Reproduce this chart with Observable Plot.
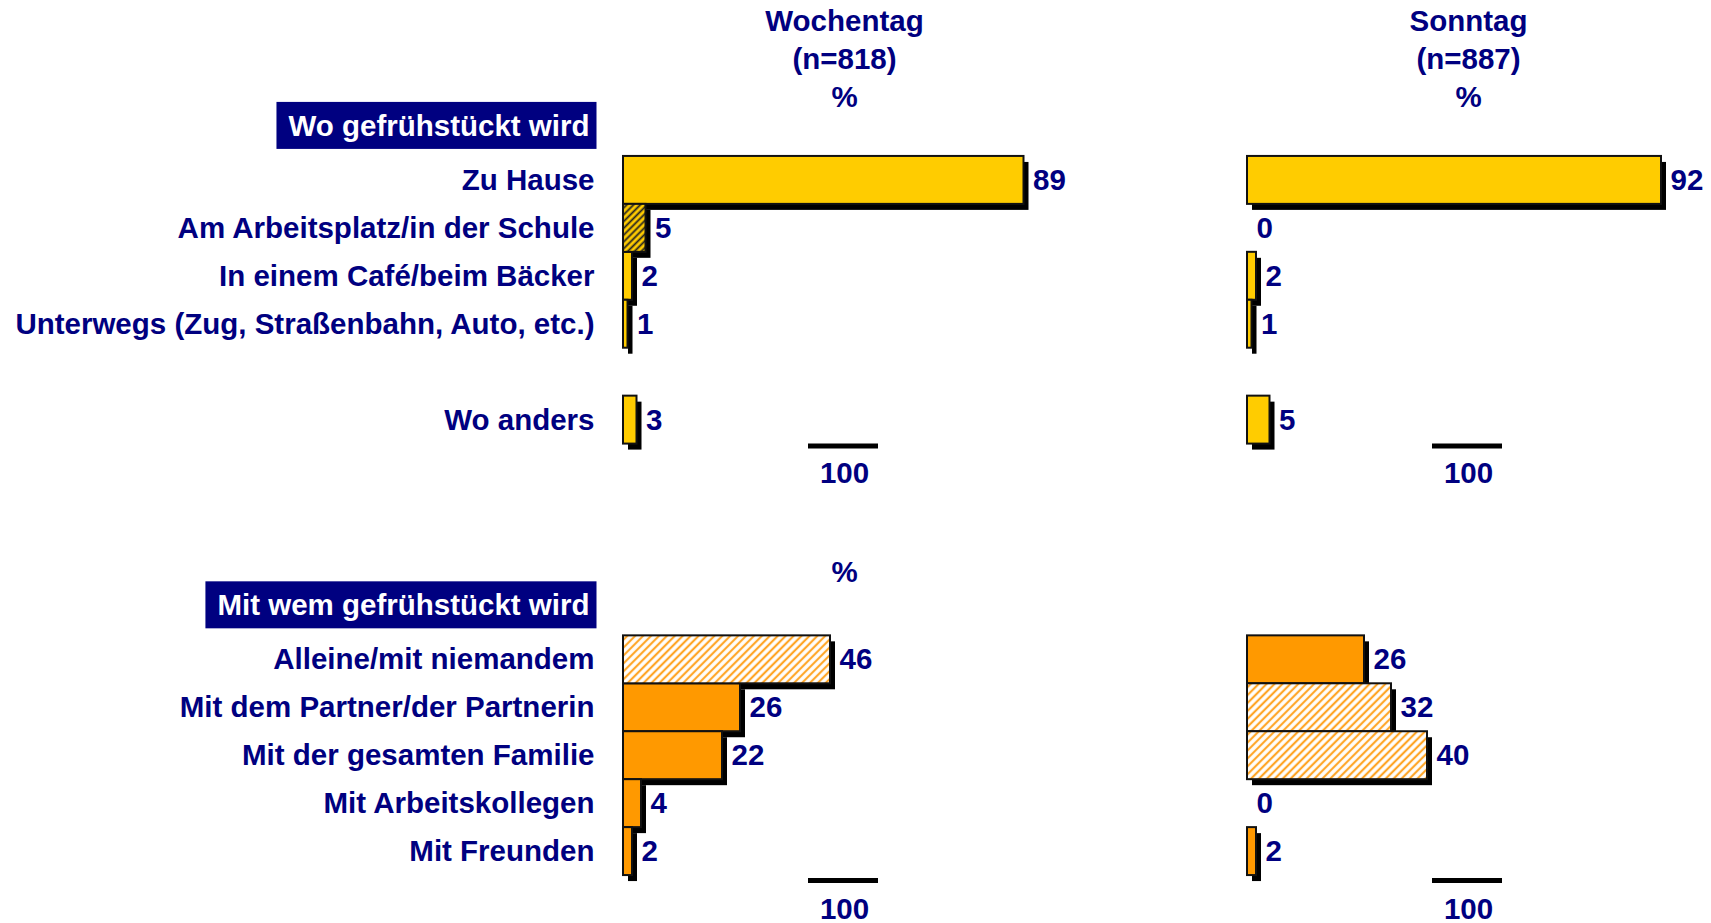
<!DOCTYPE html>
<html><head><meta charset="utf-8">
<script src="https://cdn.jsdelivr.net/npm/d3@7"></script>
<script src="https://cdn.jsdelivr.net/npm/@observablehq/plot@0.6"></script>
<style>body{margin:0;background:#fff;} svg{display:block}</style>
</head><body>
<svg width="0" height="0" style="position:absolute">
<defs>
<pattern id="hatchYellow" patternUnits="userSpaceOnUse" width="4.8" height="4.8" patternTransform="rotate(45)">
<rect width="4.8" height="4.8" fill="#FFCC00"/><line x1="2.4" y1="0" x2="2.4" y2="4.8" stroke="#222" stroke-width="1.8"/></pattern>
<pattern id="hatchOrange" patternUnits="userSpaceOnUse" width="5.6" height="5.6" patternTransform="rotate(45)">
<rect width="5.6" height="5.6" fill="#fff"/><line x1="2.8" y1="0" x2="2.8" y2="5.6" stroke="#FFA526" stroke-width="2.2"/></pattern>
</defs></svg>
<div id="chart"></div>
<script>
const panels = ["Wochentag", "Sonntag"];
const panelN = [818, 887];
const unitLabel = "%";
const scaleTickLabel = "100";
const sectionTitles = ["Wo gefrühstückt wird", "Mit wem gefrühstückt wird"];

const whereCategories = ["Zu Hause", "Am Arbeitsplatz/in der Schule", "In einem Café/beim Bäcker", "Unterwegs (Zug, Straßenbahn, Auto, etc.)", "Wo anders"];
const whereWochentag = [89, 5, 2, 1, 3];
const whereSonntag = [92, 0, 2, 1, 5];
const whereHatchedWochentag = ["Am Arbeitsplatz/in der Schule"];
const whereHatchedSonntag = [];

const withCategories = ["Alleine/mit niemandem", "Mit dem Partner/der Partnerin", "Mit der gesamten Familie", "Mit Arbeitskollegen", "Mit Freunden"];
const withWochentag = [46, 26, 22, 4, 2];
const withSonntag = [26, 32, 40, 0, 2];
const withHatchedWochentag = ["Alleine/mit niemandem"];
const withHatchedSonntag = ["Mit dem Partner/der Partnerin", "Mit der gesamten Familie"];

const rows = [];
[
  [whereCategories, [whereWochentag, whereSonntag], [whereHatchedWochentag, whereHatchedSonntag], "where"],
  [withCategories, [withWochentag, withSonntag], [withHatchedWochentag, withHatchedSonntag], "with"]
].forEach(([cats, vals, hatched, section]) => {
  panels.forEach((p, i) => cats.forEach((c, j) => rows.push({
    panel: p, category: c, value: vals[i][j], section, hatched: hatched[i].includes(c)
  })));
});

const yDomain = [sectionTitles[0], ...whereCategories.slice(0, 4), "_gap1", whereCategories[4],
  "_scale1", "_gap2", "_unit2", sectionTitles[1], ...withCategories, "_scale2"];
const allCategories = [...whereCategories, ...withCategories];

const fills = {where: ["#FFCC00", "url(#hatchYellow)"], with: ["#FF9900", "url(#hatchOrange)"]};
const visible = rows.filter(d => d.value > 0);

const barMarks = [];
for (const section of ["where", "with"]) {
  for (const h of [false, true]) {
    barMarks.push(Plot.barX(visible.filter(d => d.section === section && d.hatched === h), {
      fx: "panel", y: "category", x: "value",
      fill: fills[section][+h], stroke: "#111", strokeWidth: 2
    }));
  }
}

const headers = panels.map((p, i) => ({panel: p, text: `${p}\n(n=${panelN[i]})\n${unitLabel}`}));
const titleRows = sectionTitles.map(t => ({panel: panels[0], title: t}));
const scaleTop = panels.map(p => ({panel: p, row: "_scale1"}));
const scaleBottom = panels.map(p => ({panel: p, row: "_scale2"}));
const FS = 29.5;

const scaleMarks = (data, lineDy, textDy) => [
  Plot.ruleY(data, {fx: "panel", y: "row", insetLeft: 185, insetRight: 195, stroke: "#000", strokeWidth: 5, dy: lineDy}),
  Plot.text(data, {fx: "panel", y: "row", text: () => scaleTickLabel, frameAnchor: "middle", dx: -4, dy: textDy, fontSize: FS})
];

const chart = Plot.plot({
  width: 1711, height: 923,
  marginLeft: 623, marginRight: 14, marginTop: 108, marginBottom: 0,
  style: {fontFamily: "'Liberation Sans', Arial, sans-serif", fontWeight: "bold", fontSize: FS + "px", color: "#000080", background: "#fff", overflow: "visible"},
  fx: {domain: panels, paddingInner: 174 / 624, paddingOuter: 0, round: false, axis: null, label: null},
  x: {domain: [0, 100], axis: null},
  y: {domain: yDomain, padding: 0, round: false, tickSize: 0, tickPadding: 29, label: null,
      tickFormat: d => allCategories.includes(d) ? d : ""},
  marks: [
    Plot.barX(visible, {fx: "panel", y: "category", x: "value", fill: "#000", dx: 5, dy: 6}),
    ...barMarks,
    Plot.text(rows, {fx: "panel", y: "category", x: "value", text: d => String(d.value), textAnchor: "start", dx: 9, fontSize: FS}),
    Plot.text(headers, {fx: "panel", text: "text", frameAnchor: "top", lineAnchor: "top", lineHeight: 1.3, dy: -105, dx: -4, fontSize: FS}),
    Plot.text([unitLabel], {fx: () => panels[0], y: () => "_unit2", text: d => d, frameAnchor: "middle", dy: 9, dx: -4, fontSize: FS}),
    ...scaleMarks(scaleTop, -22, 5),
    ...scaleMarks(scaleBottom, -19, 10),
    Plot.text(titleRows, {fx: "panel", y: "title", text: "title", frameAnchor: "left", textAnchor: "end", dx: -34, dy: -6, fill: "white", fontSize: FS})
  ]
});
document.getElementById("chart").append(chart);

// navy boxes behind the section titles
chart.querySelectorAll("text").forEach(t => {
  if (sectionTitles.includes(t.textContent)) {
    const b = t.getBBox();
    const r = document.createElementNS("http://www.w3.org/2000/svg", "rect");
    const cy = b.y + b.height / 2;
    r.setAttribute("x", b.x - 12);
    r.setAttribute("y", cy - 23.5);
    r.setAttribute("width", b.width + 19);
    r.setAttribute("height", 47);
    r.setAttribute("fill", "#000080");
    if (t.getAttribute("transform")) r.setAttribute("transform", t.getAttribute("transform"));
    t.parentNode.insertBefore(r, t);
  }
});
</script>
</body></html>
